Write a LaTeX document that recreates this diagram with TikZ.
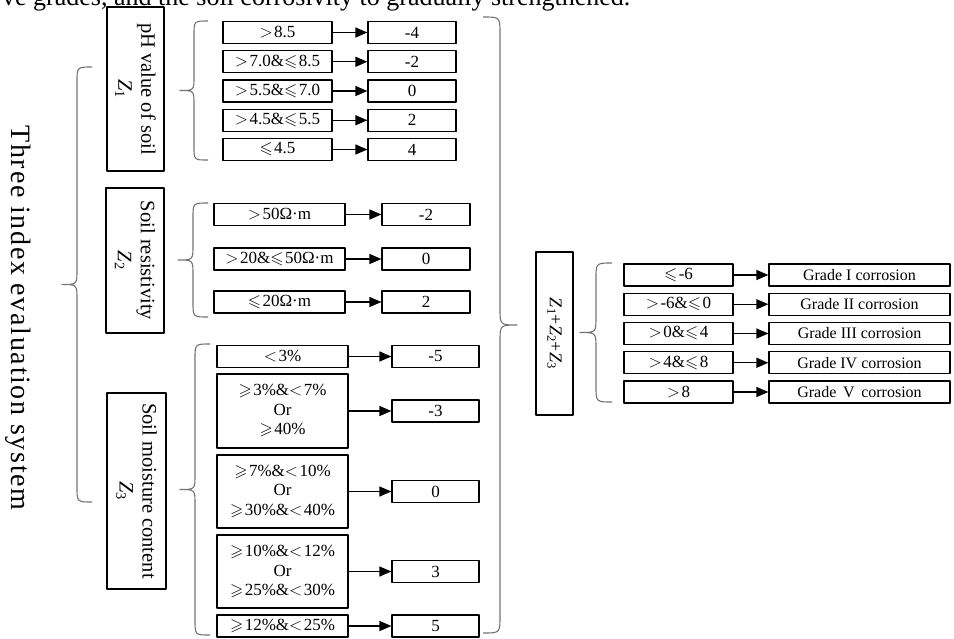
\documentclass[tikz,border=0pt]{standalone}
\usepackage{amssymb}
\usepackage{fontspec}
\setmainfont{Liberation Serif}
\usetikzlibrary{arrows.meta}

% comparison signs as printed in the table cells
\newcommand{\cgt}{\ensuremath{>}\kern1.5pt}
\newcommand{\clt}{\ensuremath{<}\kern1.5pt}
\newcommand{\cle}{\ensuremath{\leqslant}\kern1.5pt}
\newcommand{\cge}{\ensuremath{\geqslant}\kern1.5pt}
\newcommand{\zz}[1]{\textit{Z}\textsubscript{#1}}

\begin{document}
\begin{tikzpicture}[x=1pt, y=-1pt, line join=round,
    box/.style={draw, line width=1.2pt, inner sep=0pt, align=center},
    cond/.style={box, minimum height=22pt, font=\fontsize{17}{19.5}\selectfont},
    grade/.style={box, minimum height=22pt, font=\fontsize{16}{19}\selectfont},
    idx/.style={box, rotate=-90, font=\fontsize{20.5}{23}\selectfont},
    brc/.style={draw=black!55, line width=1.1pt},
    arr/.style={-{Triangle[length=12pt,width=10pt]}, line width=1.2pt}]

    \useasboundingbox (0,0) rectangle (954,638);

    % =================================================================
    % LINE OF RUNNING TEXT CUT BY THE TOP EDGE
    % =================================================================
    \node[anchor=base west, inner sep=0pt, font=\fontsize{26}{30}\selectfont] (note) at (2,5)
        {ve grades, and the soil corrosivity to gradually strengthened.};

    % =================================================================
    % LEFT: THE THREE INDICES
    % =================================================================
    \node[rotate=-90, inner sep=0pt, font=\fontsize{28}{30}\selectfont\addfontfeature{LetterSpace=6}] (sys)
        at (18,318) {Three index evaluation system};

    % big brace round the three indices
    \draw[brc] (92,67) .. controls (77,67) .. (77,82) -- (77,269.5)
        .. controls (77,284.5) .. (62,284.5) .. controls (77,284.5) .. (77,299.5)
        -- (77,487) .. controls (77,502) .. (92,502);

    \node[idx, minimum width=164pt, minimum height=57pt] (z1) at (135.5,89) {pH value of soil\\\zz{1}};
    \node[idx, minimum width=145pt, minimum height=58pt] (z2) at (135,260.5) {Soil resistivity\\\zz{2}};
    \node[idx, minimum width=196pt, minimum height=59pt] (z3) at (136.5,491) {Soil moisture content\\\zz{3}};

    % -----------------------------------------------------------------
    % pH value of soil
    % -----------------------------------------------------------------
    \draw[brc] (208,21) .. controls (194,21) .. (194,35) -- (194,76.5)
        .. controls (194,90.5) .. (180,90.5) .. controls (194,90.5) .. (194,104.5)
        -- (194,146) .. controls (194,160) .. (208,160);

    \node[cond, minimum width=109pt] (p1) at (277.5,32.5)  {\cgt8.5};
    \node[cond, minimum width=109pt] (p2) at (277.5,61.75) {\cgt7.0\&\cle8.5};
    \node[cond, minimum width=109pt] (p3) at (277.5,91)    {\cgt5.5\&\cle7.0};
    \node[cond, minimum width=109pt] (p4) at (277.5,120.25){\cgt4.5\&\cle5.5};
    \node[cond, minimum width=109pt] (p5) at (277.5,149.5) {\cle4.5};

    \node[cond, minimum width=88pt] (ps1) at (412,32.5)  {-4};
    \node[cond, minimum width=88pt] (ps2) at (412,61.75) {-2};
    \node[cond, minimum width=88pt] (ps3) at (412,91)    {0};
    \node[cond, minimum width=88pt] (ps4) at (412,120.25){2};
    \node[cond, minimum width=88pt] (ps5) at (412,149.5) {4};

    \foreach \i in {1,...,5} \draw[arr] (p\i) -- (ps\i);

    % -----------------------------------------------------------------
    % Soil resistivity
    % -----------------------------------------------------------------
    \draw[brc] (208,203) .. controls (193,203) .. (193,218) -- (193,245)
        .. controls (193,260) .. (178,260) .. controls (193,260) .. (193,275)
        -- (193,302) .. controls (193,317) .. (208,317);

    \node[cond, minimum width=131pt] (r1) at (279.5,214.5) {\cgt50Ω·m};
    \node[cond, minimum width=131pt] (r2) at (279.5,259)   {\cgt20\&\cle50Ω·m};
    \node[cond, minimum width=131pt] (r3) at (279.5,302)   {\cle20Ω·m};

    \node[cond, minimum width=88pt] (rs1) at (426,214.5) {-2};
    \node[cond, minimum width=88pt] (rs2) at (426,259)   {0};
    \node[cond, minimum width=88pt] (rs3) at (426,302)   {2};

    \foreach \i in {1,2,3} \draw[arr] (r\i) -- (rs\i);

    % -----------------------------------------------------------------
    % Soil moisture content
    % -----------------------------------------------------------------
    \draw[brc] (210,344) .. controls (195,344) .. (195,359) -- (195,474.5)
        .. controls (195,489.5) .. (180,489.5) .. controls (195,489.5) .. (195,504.5)
        -- (195,620) .. controls (195,635) .. (210,635);

    \node[cond, minimum width=131pt] (m1) at (282.5,356.5) {\clt3\%};
    \node[cond, minimum width=131pt, minimum height=74pt] (m2) at (282.5,411)
        {\cge3\%\&\clt7\%\\Or\\\cge40\%};
    \node[cond, minimum width=131pt, minimum height=73pt] (m3) at (282.5,491.5)
        {\cge7\%\&\clt10\%\\Or\\\cge30\%\&\clt40\%};
    \node[cond, minimum width=131pt, minimum height=73pt] (m4) at (282.5,571.5)
        {\cge10\%\&\clt12\%\\Or\\\cge25\%\&\clt30\%};
    \node[cond, minimum width=131pt] (m5) at (282.5,626) {\cge12\%\&\clt25\%};

    \node[cond, minimum width=87pt] (ms1) at (435.5,356.5) {-5};
    \node[cond, minimum width=87pt] (ms2) at (435.5,411)   {-3};
    \node[cond, minimum width=87pt] (ms3) at (435.5,491.5) {0};
    \node[cond, minimum width=87pt] (ms4) at (435.5,571.5) {3};
    \node[cond, minimum width=87pt] (ms5) at (435.5,626)   {5};

    \foreach \i in {1,...,5} \draw[arr] (m\i) -- (ms\i);

    % =================================================================
    % RIGHT: SUM OF THE THREE INDICES AND CORROSION GRADE
    % =================================================================
    % big brace closing all the indices
    \draw[brc] (483,17) .. controls (500,17) .. (500,34) -- (500,308)
        .. controls (500,325) .. (517,325) .. controls (500,325) .. (500,342)
        -- (500,616) .. controls (500,633) .. (483,633);

    \node[idx, minimum width=163pt, minimum height=37pt, font=\fontsize{18}{20}\selectfont] (sum)
        at (554.5,333.5) {\zz{1}+\zz{2}+\zz{3}};

    \draw[brc] (612,263) .. controls (596,263) .. (596,279) -- (596,316.5)
        .. controls (596,332.5) .. (580,332.5) .. controls (596,332.5) .. (596,348.5)
        -- (596,386) .. controls (596,402) .. (612,402);

    \node[cond, minimum width=109pt] (g1) at (678.5,275)    {\cle-6};
    \node[cond, minimum width=109pt] (g2) at (678.5,304.25) {\cgt-6\&\cle0};
    \node[cond, minimum width=109pt] (g3) at (678.5,333.5)  {\cgt0\&\cle4};
    \node[cond, minimum width=109pt] (g4) at (678.5,362.75) {\cgt4\&\cle8};
    \node[cond, minimum width=109pt] (g5) at (678.5,392)    {\cgt8};

    \node[grade, minimum width=181pt] (gd1) at (859.5,275)    {Grade I corrosion};
    \node[grade, minimum width=181pt] (gd2) at (859.5,304.25) {Grade II corrosion};
    \node[grade, minimum width=181pt] (gd3) at (859.5,333.5)  {Grade III corrosion};
    \node[grade, minimum width=181pt] (gd4) at (859.5,362.75) {Grade IV corrosion};
    \node[grade, minimum width=181pt] (gd5) at (859.5,392)    {Grade \,V\, corrosion};

    \foreach \i in {1,...,5} \draw[arr] (g\i) -- (gd\i);

\end{tikzpicture}
\end{document}
